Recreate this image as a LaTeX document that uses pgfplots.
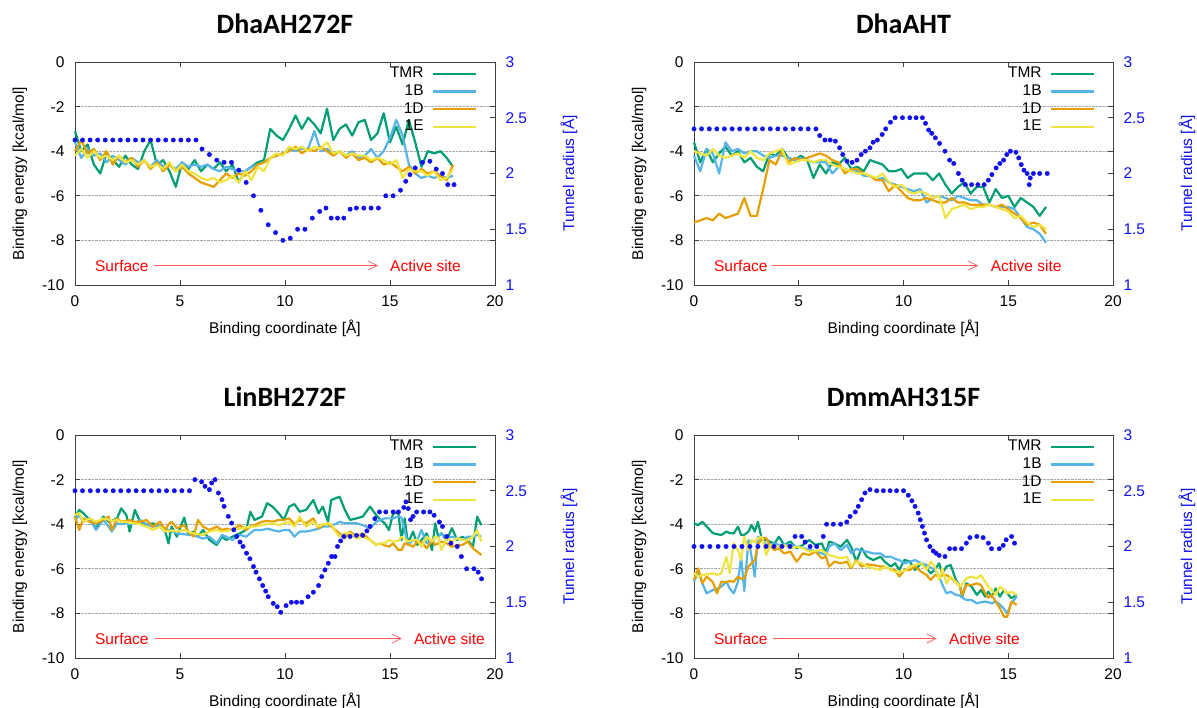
\documentclass[border=0pt]{standalone}
\usepackage{pgfplots}
\pgfplotsset{compat=1.18}
\usepackage{pgfplotstable}
\usetikzlibrary{arrows.meta}
\usepackage{fontspec}
\setmainfont{Liberation Sans}
\newfontfamily\carlito{Carlito}
\newcommand\lblfont{\fontsize{15.5}{18}\selectfont}
\newcommand\titlefont{\carlito\bfseries\fontsize{28}{32}\selectfont}
\definecolor{cTMR}{HTML}{009E73}
\definecolor{cB}{HTML}{56B4E9}
\definecolor{cD}{HTML}{E69F00}
\definecolor{cE}{HTML}{F0E442}
\definecolor{tblue}{HTML}{1010F0}

\pgfplotstableread{
x TMR B D E
0.0 -3.1 -3.6 -4.0 -4.2
0.3 -4.0 -4.3 -3.5 -3.9
0.6 -3.7 -3.9 -4.1 -4.3
0.9 -4.6 -4.2 -3.9 -4.0
1.2 -5.0 -4.1 -4.4 -4.3
1.5 -4.1 -4.5 -4.0 -4.2
1.8 -4.4 -4.2 -4.6 -4.4
2.1 -4.7 -4.4 -4.2 -4.2
2.4 -4.2 -4.6 -4.5 -4.5
2.7 -4.6 -4.3 -4.3 -4.4
3.0 -4.8 -4.5 -4.7 -4.6
3.3 -4.0 -4.4 -4.4 -4.4
3.6 -3.5 -4.7 -4.8 -4.7
3.9 -4.6 -4.4 -4.5 -4.6
4.2 -4.4 -4.7 -4.9 -4.8
4.5 -4.9 -4.6 -4.6 -4.5
4.8 -5.6 -4.8 -4.9 -4.9
5.1 -4.5 -4.5 -4.7 -4.6
5.4 -4.8 -4.7 -5.0 -4.9
5.7 -4.4 -4.6 -5.2 -5.0
6.0 -4.9 -4.7 -5.4 -5.2
6.3 -4.6 -4.6 -5.5 -5.3
6.6 -4.8 -4.8 -5.6 -5.2
6.9 -4.5 -4.9 -5.3 -5.4
7.2 -4.9 -4.7 -5.0 -5.3
7.5 -4.6 -4.8 -5.2 -5.1
7.8 -5.4 -4.9 -5.0 -5.4
8.1 -4.9 -4.9 -5.1 -4.9
8.4 -4.7 -4.7 -4.9 -5.3
8.7 -4.5 -4.6 -4.6 -4.7
9.0 -4.4 -4.5 -4.5 -4.9
9.3 -3.0 -4.3 -4.3 -4.3
9.6 -3.3 -4.2 -4.2 -4.1
9.9 -3.5 -4.1 -4.1 -4.2
10.2 -3.0 -3.9 -4.0 -3.8
10.5 -2.4 -4.0 -3.8 -3.9
10.8 -3.0 -3.9 -4.1 -3.8
11.1 -2.5 -3.9 -3.9 -4.0
11.4 -2.8 -3.1 -4.0 -3.8
11.7 -3.2 -4.0 -3.8 -3.9
12.0 -2.1 -3.9 -4.0 -3.6
12.3 -3.5 -4.1 -4.2 -4.1
12.6 -3.0 -4.0 -4.0 -4.0
12.9 -2.8 -4.2 -4.3 -4.2
13.2 -3.3 -4.0 -4.1 -4.1
13.5 -2.7 -4.3 -4.4 -4.2
13.8 -2.6 -4.2 -4.3 -4.2
14.1 -3.5 -3.9 -4.5 -4.4
14.4 -3.2 -4.3 -4.3 -4.3
14.7 -2.3 -4.0 -4.6 -4.4
15.0 -3.6 -3.4 -4.5 -4.6
15.3 -2.9 -2.6 -4.7 -4.4
15.6 -3.7 -3.3 -4.9 -5.2
15.9 -2.6 -4.6 -4.7 -4.8
16.2 -3.6 -5.0 -5.0 -4.9
16.5 -4.7 -5.2 -4.8 -4.9
16.8 -4.0 -5.1 -5.0 -5.1
17.1 -4.1 -5.2 -4.9 -4.9
17.4 -4.0 -5.1 -5.1 -5.3
17.7 -4.3 -5.2 -5.3 -5.2
18.0 -4.7 -5.1 -4.6 -4.8
}\tabA

\pgfplotstableread{
x r
0.0 2.3
0.36 2.3
0.72 2.3
1.08 2.3
1.44 2.3
1.8 2.3
2.16 2.3
2.52 2.3
2.88 2.3
3.24 2.3
3.6 2.3
3.96 2.3
4.32 2.3
4.68 2.3
5.04 2.3
5.4 2.3
5.76 2.3
6.05 2.22
6.4 2.17
6.75 2.12
7.1 2.1
7.45 2.1
7.8 2.03
8.15 1.92
8.5 1.8
8.85 1.67
9.2 1.54
9.55 1.47
9.9 1.4
10.25 1.42
10.6 1.5
10.95 1.5
11.3 1.6
11.65 1.66
11.95 1.69
12.2 1.6
12.5 1.6
12.8 1.6
13.1 1.68
13.4 1.69
13.75 1.69
14.1 1.69
14.45 1.69
14.8 1.8
15.15 1.8
15.5 1.85
15.75 1.93
15.95 1.99
16.2 2.05
16.55 2.1
16.9 2.11
17.2 2.04
17.5 2.0
17.75 1.9
18.05 1.9
}\radA

\pgfplotstableread{
x TMR B D E
0.0 -3.6 -4.2 -7.2 -4.0
0.3 -4.5 -4.9 -7.1 -4.1
0.6 -3.9 -3.9 -7.0 -4.2
0.9 -4.5 -4.1 -7.1 -3.9
1.2 -4.1 -5.0 -6.8 -4.2
1.5 -3.8 -3.6 -7.0 -4.3
1.8 -4.2 -4.0 -6.9 -4.2
2.1 -4.0 -3.9 -6.8 -4.1
2.4 -4.5 -4.1 -6.1 -4.3
2.7 -4.3 -4.0 -6.9 -4.0
3.0 -4.7 -4.0 -6.9 -4.3
3.3 -4.9 -4.2 -5.7 -4.4
3.6 -4.1 -4.3 -4.4 -4.1
3.9 -4.2 -4.2 -4.6 -4.0
4.2 -3.9 -4.2 -4.0 -3.9
4.5 -4.3 -4.3 -4.5 -4.6
4.8 -4.4 -4.4 -4.3 -4.5
5.1 -4.2 -4.3 -4.4 -4.4
5.4 -4.4 -4.4 -4.3 -4.4
5.7 -5.2 -4.5 -4.2 -4.5
6.0 -4.6 -4.5 -4.1 -4.4
6.3 -5.0 -4.5 -4.2 -4.4
6.6 -4.5 -5.0 -4.4 -4.6
6.9 -4.6 -4.7 -4.5 -4.7
7.2 -4.3 -4.8 -5.0 -4.8
7.5 -4.8 -4.9 -4.8 -4.9
7.8 -4.7 -4.9 -4.8 -5.0
8.1 -4.9 -5.1 -5.0 -5.0
8.4 -4.4 -5.1 -5.1 -5.1
8.7 -4.5 -5.3 -5.3 -5.2
9.0 -4.6 -5.2 -5.3 -5.0
9.3 -4.9 -5.4 -5.8 -5.4
9.6 -4.9 -5.5 -5.5 -5.6
9.9 -4.8 -5.6 -5.8 -5.5
10.2 -5.2 -5.7 -6.1 -5.8
10.5 -5.0 -5.8 -6.2 -5.9
10.8 -5.0 -5.7 -6.2 -5.8
11.1 -5.0 -6.3 -6.1 -5.9
11.4 -5.3 -6.1 -6.2 -6.1
11.7 -5.0 -6.0 -6.3 -6.0
12.0 -5.5 -6.1 -6.3 -7.0
12.3 -5.9 -6.2 -6.1 -6.6
12.6 -5.6 -6.0 -6.3 -6.5
12.9 -5.4 -6.1 -6.3 -6.4
13.2 -5.9 -6.2 -6.4 -6.6
13.5 -5.6 -6.2 -6.4 -6.5
13.8 -5.6 -6.4 -6.4 -6.5
14.1 -6.3 -6.4 -6.4 -6.4
14.4 -5.7 -6.5 -6.5 -6.5
14.7 -6.1 -6.5 -6.4 -6.6
15.0 -6.0 -6.5 -6.6 -6.7
15.3 -6.5 -6.6 -6.8 -7.0
15.6 -6.1 -7.0 -7.0 -6.9
15.9 -6.3 -7.4 -7.3 -7.2
16.2 -6.5 -7.5 -7.2 -7.4
16.5 -6.9 -7.7 -7.3 -7.3
16.8 -6.5 -8.1 -7.7 -7.5
}\tabB

\pgfplotstableread{
x r
0.0 2.4
0.36 2.4
0.73 2.4
1.09 2.4
1.45 2.4
1.82 2.4
2.18 2.4
2.55 2.4
2.91 2.4
3.27 2.4
3.64 2.4
4.0 2.4
4.36 2.4
4.73 2.4
5.09 2.4
5.45 2.4
5.82 2.4
6.0 2.34
6.25 2.3
6.5 2.3
6.75 2.29
6.95 2.23
7.1 2.17
7.3 2.11
7.55 2.1
7.78 2.12
7.98 2.17
8.18 2.2
8.4 2.23
8.55 2.28
8.75 2.3
8.98 2.35
9.15 2.4
9.38 2.46
9.6 2.5
9.95 2.5
10.3 2.5
10.6 2.5
10.9 2.5
11.05 2.45
11.2 2.39
11.35 2.36
11.52 2.32
11.72 2.27
11.98 2.2
12.2 2.12
12.4 2.09
12.62 2.0
12.8 1.94
12.95 1.9
13.25 1.9
13.55 1.9
13.85 1.9
14.05 1.94
14.22 1.99
14.42 2.05
14.6 2.09
14.78 2.12
14.93 2.17
15.1 2.2
15.37 2.19
15.5 2.14
15.62 2.08
15.75 2.03
15.9 2.0
16.0 1.9
16.05 1.96
16.2 2.0
16.5 2.0
16.86 2.0
}\radB

\pgfplotstableread{
x TMR B D E
0.0 -3.7 -3.81 -3.66 -3.59
0.2 -3.36 -3.6 -4.26 -3.5
0.4 -3.51 -3.9 -3.74 -3.9
0.7 -3.81 -3.74 -3.89 -3.74
1.0 -4.18 -4.26 -3.96 -3.89
1.35 -3.66 -3.81 -3.81 -3.74
1.6 -3.89 -4.1 -3.66 -3.8
1.75 -3.85 -4.33 -4.26 -3.85
2.0 -3.74 -3.96 -3.74 -3.81
2.2 -3.29 -4.0 -3.89 -3.9
2.45 -3.6 -3.95 -3.85 -3.89
2.6 -4.33 -4.0 -3.81 -3.95
2.85 -3.36 -3.96 -3.9 -3.96
3.1 -3.89 -3.81 -3.89 -4.0
3.4 -4.04 -4.0 -3.81 -4.11
3.7 -3.96 -4.11 -4.11 -4.26
4.05 -4.11 -4.04 -3.89 -4.11
4.3 -4.33 -4.2 -4.26 -4.33
4.45 -4.86 -4.26 -4.0 -4.3
4.6 -4.11 -4.3 -3.89 -4.28
4.85 -4.56 -4.41 -4.18 -4.33
5.2 -3.7 -4.45 -4.04 -4.26
5.4 -4.48 -4.48 -4.33 -4.35
5.65 -4.33 -4.5 -4.56 -4.41
5.85 -4.56 -4.56 -3.81 -4.45
6.1 -4.26 -4.65 -4.11 -4.48
6.4 -4.71 -4.56 -4.26 -4.33
6.75 -4.93 -4.86 -4.11 -4.26
7.0 -4.56 -4.48 -4.26 -4.33
7.2 -4.71 -4.56 -4.2 -4.3
7.5 -4.56 -4.71 -4.26 -4.26
7.85 -4.41 -4.48 -4.04 -4.2
8.15 -4.26 -4.56 -4.26 -4.15
8.35 -3.44 -4.4 -4.1 -4.11
8.55 -3.81 -4.26 -4.04 -4.11
8.9 -3.66 -4.26 -3.89 -4.04
9.15 -3.06 -4.2 -3.85 -4.0
9.4 -3.21 -4.26 -3.89 -3.96
9.7 -3.51 -4.33 -3.81 -4.04
9.95 -3.81 -4.26 -3.81 -3.96
10.2 -3.21 -4.26 -3.74 -3.89
10.45 -3.1 -4.56 -4.0 -4.11
10.7 -3.44 -4.33 -3.81 -3.66
11.0 -3.36 -4.33 -3.96 -4.11
11.35 -2.92 -4.26 -3.74 -3.89
11.6 -3.51 -4.2 -4.18 -4.11
11.8 -3.21 -4.11 -4.04 -4.0
12.05 -3.89 -4.11 -3.96 -3.96
12.2 -2.92 -4.04 -4.1 -4.0
12.4 -2.84 -4.0 -4.26 -4.33
12.6 -2.77 -3.89 -4.41 -4.56
12.85 -3.36 -3.96 -4.63 -4.41
13.1 -3.81 -3.96 -4.33 -4.41
13.4 -3.74 -3.96 -4.56 -4.63
13.7 -3.66 -4.04 -4.41 -4.56
14.05 -3.21 -4.18 -4.71 -4.71
14.35 -3.6 -3.89 -4.93 -4.93
14.55 -3.81 -3.81 -4.86 -4.86
14.75 -3.96 -3.74 -4.95 -4.86
14.95 -4.26 -3.74 -5.01 -4.71
15.15 -3.51 -3.74 -4.86 -4.78
15.4 -3.51 -3.66 -5.16 -4.75
15.55 -4.71 -3.7 -5.16 -4.56
15.7 -3.74 -4.26 -4.86 -4.65
15.85 -4.86 -4.93 -4.9 -4.78
16.1 -4.33 -4.71 -5.01 -4.71
16.3 -4.93 -4.71 -4.78 -4.7
16.5 -4.71 -4.26 -4.8 -5.01
16.75 -4.41 -4.86 -5.08 -4.56
17.0 -5.16 -4.71 -4.71 -4.78
17.15 -3.96 -4.6 -4.93 -4.56
17.3 -4.56 -4.56 -4.86 -4.6
17.45 -4.41 -4.41 -4.78 -5.16
17.7 -4.71 -4.63 -4.86 -4.63
17.95 -4.18 -4.56 -5.01 -4.78
18.2 -4.71 -4.63 -4.93 -4.63
18.45 -4.56 -4.71 -4.93 -4.7
18.7 -4.71 -4.56 -4.78 -4.71
18.95 -5.01 -4.56 -5.08 -4.56
19.15 -3.66 -4.48 -5.23 -4.26
19.35 -4.04 -4.56 -5.38 -4.78
}\tabC

\pgfplotstableread{
x r
0.0 2.5
0.36 2.5
0.73 2.5
1.09 2.5
1.45 2.5
1.82 2.5
2.18 2.5
2.55 2.5
2.91 2.5
3.27 2.5
3.64 2.5
4.0 2.5
4.36 2.5
4.73 2.5
5.09 2.5
5.45 2.5
5.71 2.6
6.03 2.58
6.19 2.54
6.4 2.51
6.51 2.57
6.67 2.6
6.83 2.48
7.0 2.42
7.1 2.36
7.3 2.27
7.46 2.21
7.56 2.15
7.7 2.09
7.86 2.04
8.0 2.0
8.17 1.94
8.33 1.89
8.5 1.82
8.62 1.77
8.78 1.71
8.94 1.65
9.08 1.6
9.2 1.55
9.44 1.49
9.63 1.46
9.8 1.41
10.05 1.47
10.3 1.5
10.55 1.5
10.8 1.5
11.1 1.55
11.35 1.59
11.6 1.65
11.75 1.73
11.9 1.79
12.06 1.85
12.22 1.91
12.38 1.91
12.5 2.0
12.65 2.05
12.8 2.09
13.1 2.09
13.4 2.1
13.7 2.1
13.9 2.14
14.05 2.18
14.28 2.25
14.5 2.31
14.8 2.31
15.15 2.31
15.4 2.31
15.66 2.35
15.76 2.4
15.87 2.34
15.98 2.24
16.1 2.27
16.27 2.31
16.6 2.31
16.9 2.31
17.1 2.28
17.35 2.22
17.5 2.18
17.7 2.09
17.9 2.03
18.2 2.0
18.4 1.91
18.65 1.8
19.0 1.8
19.2 1.77
19.36 1.71
}\radC

\pgfplotstableread{
x TMR B D E
0.0 -3.96 -6.58 -6.50 -6.20
0.2 -4.04 -6.13 -5.98 -6.35
0.4 -3.89 -6.65 -6.65 -6.28
0.6 -4.1 -7.1 -6.35 -6.25
0.9 -4.4 -6.95 -6.6 -6.2
1.1 -4.45 -6.9 -7.1 -6.28
1.3 -4.48 -6.8 -6.58 -6.2
1.55 -4.33 -6.58 -6.6 -5.46
1.7 -4.4 -6.88 -6.55 -6.2
1.9 -4.41 -7.1 -6.58 -4.86
2.1 -4.11 -6.58 -6.35 -5.16
2.25 -4.48 -5.46 -6.45 -5.6
2.4 -4.48 -7.0 -6.43 -4.56
2.6 -4.33 -4.71 -5.9 -5.16
2.75 -4.04 -5.46 -5.75 -4.71
2.9 -4.33 -6.35 -5.61 -4.8
3.05 -3.89 -4.56 -4.9 -4.63
3.25 -4.71 -4.71 -4.63 -4.56
3.45 -4.71 -4.93 -4.63 -5.38
3.65 -4.8 -4.9 -5.0 -4.93
3.85 -4.86 -4.86 -5.16 -5.01
4.05 -4.56 -4.93 -5.08 -5.0
4.3 -4.93 -4.9 -5.31 -4.93
4.6 -4.78 -4.93 -5.23 -5.08
4.9 -5.08 -5.0 -5.68 -5.01
5.2 -4.93 -5.05 -5.31 -5.08
5.5 -4.71 -5.16 -5.38 -5.23
5.8 -4.93 -5.2 -5.23 -5.2
6.1 -4.86 -5.31 -5.53 -5.16
6.3 -5.31 -5.38 -5.46 -5.3
6.45 -4.78 -5.0 -5.9 -5.38
6.7 -4.86 -4.86 -5.68 -5.45
7.0 -5.01 -5.16 -5.75 -5.53
7.3 -4.71 -4.93 -5.68 -5.46
7.5 -5.01 -5.31 -5.98 -5.9
7.75 -5.68 -5.1 -5.61 -5.68
8.0 -5.08 -5.2 -5.9 -5.75
8.25 -5.46 -5.23 -5.8 -5.9
8.55 -5.61 -5.31 -5.83 -5.98
8.9 -5.46 -5.31 -5.9 -6.05
9.1 -5.68 -5.46 -5.9 -5.9
9.4 -5.9 -5.46 -6.05 -6.05
9.6 -5.75 -5.55 -6.05 -6.15
9.8 -6.05 -5.61 -6.35 -6.13
10.05 -5.6 -5.75 -6.05 -6.1
10.3 -5.68 -5.68 -6.05 -5.9
10.55 -6.05 -5.61 -5.9 -5.83
10.85 -5.75 -5.75 -6.13 -5.75
11.1 -5.98 -5.83 -6.28 -6.05
11.3 -6.2 -5.95 -6.5 -5.68
11.5 -6.05 -6.05 -6.28 -5.9
11.7 -5.75 -6.35 -6.35 -6.5
11.85 -6.2 -6.7 -6.3 -5.98
12.05 -5.9 -7.1 -6.28 -6.65
12.25 -5.83 -7.03 -6.4 -6.35
12.5 -6.5 -7.17 -6.6 -6.58
12.7 -6.8 -7.2 -6.8 -6.8
12.8 -7.25 -7.3 -7.17 -6.7
13.0 -6.65 -7.4 -6.73 -6.43
13.25 -6.8 -7.4 -6.73 -6.35
13.5 -7.17 -7.55 -6.65 -6.43
13.7 -6.95 -7.5 -6.73 -6.28
13.9 -7.25 -7.47 -7.1 -6.58
14.05 -7.03 -7.5 -7.3 -6.8
14.2 -7.25 -7.55 -7.17 -6.95
14.4 -6.88 -7.47 -7.47 -7.17
14.6 -7.25 -7.6 -7.77 -6.8
14.8 -6.95 -7.8 -8.15 -6.95
14.95 -7.1 -8.0 -8.15 -7.1
15.15 -7.32 -7.55 -7.47 -7.03
15.4 -7.17 -7.25 -7.62 -7.17
}\tabD

\pgfplotstableread{
x r
0.0 2.0
0.38 2.0
0.76 2.0
1.15 2.0
1.53 2.0
1.91 2.0
2.29 2.0
2.67 2.0
3.05 2.0
3.44 2.0
3.82 2.0
4.2 2.0
4.58 2.0
4.82 2.09
5.14 2.09
5.3 2.04
5.54 2.0
5.86 2.0
6.17 2.09
6.33 2.2
6.65 2.2
7.0 2.2
7.29 2.22
7.45 2.27
7.7 2.31
7.84 2.36
8.0 2.42
8.16 2.48
8.4 2.51
8.72 2.5
9.04 2.5
9.36 2.5
9.67 2.5
10.0 2.5
10.23 2.46
10.4 2.41
10.55 2.36
10.7 2.3
10.8 2.24
10.9 2.18
11.0 2.12
11.1 2.06
11.26 2.0
11.42 1.96
11.55 1.94
11.7 1.92
11.98 1.91
12.2 1.98
12.45 1.98
12.77 1.98
13.0 2.03
13.17 2.08
13.5 2.09
13.8 2.08
14.05 2.03
14.2 1.98
14.57 1.98
14.76 2.01
14.9 2.06
15.16 2.09
15.3 2.03
}\radD

\pgfplotsset{
  base/.style={
    scale only axis, height=223pt, anchor=south west,
    xmin=0, xmax=20, xtick={0,5,...,20},
    tick align=inside, major tick length=5pt,
    axis line style={black!75, line width=0.7pt},
    every tick/.style={black!75, line width=0.7pt},
    tick label style={font=\lblfont, /pgf/number format/assume math mode=true},
    label style={font=\lblfont},
    clip=false,
  },
  leftax/.style={
    base,
    ymin=-10, ymax=0, ytick={-10,-8,...,0},
    ymajorgrids, grid style={densely dotted, gray!70, line width=0.6pt},
    xlabel={Binding coordinate [Å]},
    ylabel={Binding energy [kcal/mol]},
    every axis x label/.style={at={(axis description cs:0.5,0)}, anchor=base, yshift=-49pt, font=\lblfont},
    every axis y label/.style={at={(axis description cs:0,0.5)}, rotate=90, anchor=base, yshift=51pt, font=\lblfont},
    xticklabel style={yshift=-7pt},
    yticklabel style={xshift=-7pt},
    every axis title/.style={at={(axis description cs:0.5,1)}, anchor=base, yshift=28pt, font=\titlefont},
    legend style={at={(axis description cs:1,1)}, anchor=north east, xshift=-15pt, yshift=-1pt,
      draw=none, fill=none, font=\lblfont, column sep=5pt,
      nodes={text height=11pt, text depth=3pt, inner ysep=1.8pt, inner xsep=3pt}},
    legend cell align=right, legend plot pos=right,
    legend image code/.code={\draw[#1] (0pt,0pt) -- (43pt,0pt);},
  },
  rightax/.style={
    base,
    axis y line*=right, axis x line=none,
    ymin=1, ymax=3, ytick={1,1.5,...,3},
    ylabel={Tunnel radius [Å]},
    every axis y label/.style={at={(axis description cs:1,0.5)}, rotate=90, anchor=base, yshift=-79pt, font=\lblfont, text=tblue},
    yticklabel style={text=tblue, xshift=7pt},
  },
  ser/.style={line width=2.2pt, line join=round},
  dots/.style={only marks, mark=*, mark size=2.2pt, tblue, mark options={draw=tblue, fill=tblue}},
}

\newcommand\annot[4]{%
  \node[anchor=west, inner sep=0pt, text=red, font=\lblfont] at (axis cs:0.95,-9.13) {Surface};
  \draw[red!65, line width=0.7pt, -{Straight Barb[length=9pt,width=9pt]}] (axis cs:#1,-9.13) -- (axis cs:#2,-9.13);
  \node[anchor=west, inner sep=0pt, text=red, font=\lblfont] at (axis cs:#3,-9.13) {Active site};
}

\begin{document}
\begin{tikzpicture}
\path[use as bounding box] (0pt,0pt) rectangle (1197pt,708pt);

% Panel 1
\begin{axis}[leftax, at={(75pt,423pt)}, width=420pt, title={DhaAH272F}]
\addplot[ser, cTMR] table[x=x,y=TMR]{\tabA}; \addlegendentry{TMR}
\addplot[ser, cB] table[x=x,y=B]{\tabA}; \addlegendentry{1B}
\addplot[ser, cD] table[x=x,y=D]{\tabA}; \addlegendentry{1D}
\addplot[ser, cE] table[x=x,y=E]{\tabA}; \addlegendentry{1E}
\annot{3.76}{14.43}{15.0}{}
\end{axis}
\begin{axis}[rightax, at={(75pt,423pt)}, width=420pt]
\addplot[dots] table[x=x,y=r]{\radA};
\end{axis}

% Panel 2
\begin{axis}[leftax, at={(694pt,423pt)}, width=419pt, title={DhaAHT}]
\addplot[ser, cTMR] table[x=x,y=TMR]{\tabB}; \addlegendentry{TMR}
\addplot[ser, cB] table[x=x,y=B]{\tabB}; \addlegendentry{1B}
\addplot[ser, cD] table[x=x,y=D]{\tabB}; \addlegendentry{1D}
\addplot[ser, cE] table[x=x,y=E]{\tabB}; \addlegendentry{1E}
\annot{3.72}{13.56}{14.16}{}
\end{axis}
\begin{axis}[rightax, at={(694pt,423pt)}, width=419pt]
\addplot[dots] table[x=x,y=r]{\radB};
\end{axis}

% Panel 3
\begin{axis}[leftax, at={(75pt,50pt)}, width=420pt, title={LinBH272F}]
\addplot[ser, cTMR] table[x=x,y=TMR]{\tabC}; \addlegendentry{TMR}
\addplot[ser, cB] table[x=x,y=B]{\tabC}; \addlegendentry{1B}
\addplot[ser, cD] table[x=x,y=D]{\tabC}; \addlegendentry{1D}
\addplot[ser, cE] table[x=x,y=E]{\tabC}; \addlegendentry{1E}
\annot{3.8}{15.56}{16.14}{}
\end{axis}
\begin{axis}[rightax, at={(75pt,50pt)}, width=420pt]
\addplot[dots] table[x=x,y=r]{\radC};
\end{axis}

% Panel 4
\begin{axis}[leftax, at={(694pt,50pt)}, width=419pt, title={DmmAH315F}]
\addplot[ser, cTMR] table[x=x,y=TMR]{\tabD}; \addlegendentry{TMR}
\addplot[ser, cB] table[x=x,y=B]{\tabD}; \addlegendentry{1B}
\addplot[ser, cD] table[x=x,y=D]{\tabD}; \addlegendentry{1D}
\addplot[ser, cE] table[x=x,y=E]{\tabD}; \addlegendentry{1E}
\annot{3.75}{11.58}{12.17}{}
\end{axis}
\begin{axis}[rightax, at={(694pt,50pt)}, width=419pt]
\addplot[dots] table[x=x,y=r]{\radD};
\end{axis}
\end{tikzpicture}
\end{document}
